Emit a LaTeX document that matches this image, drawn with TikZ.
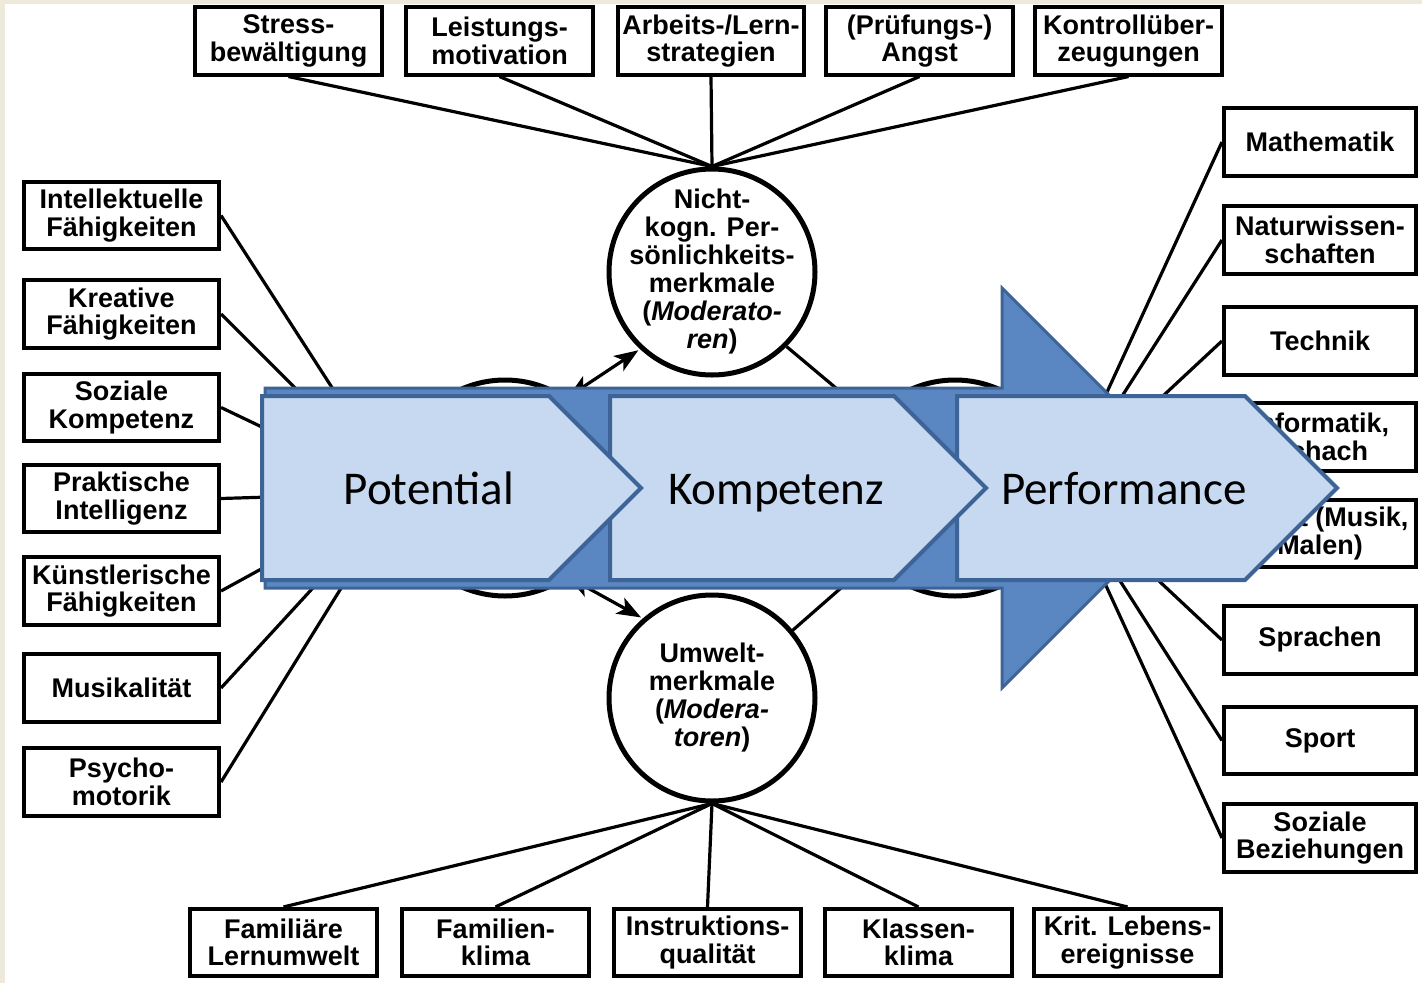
\documentclass[tikz,border=0pt]{standalone}
\usepackage{fontspec}
\setmainfont{Liberation Sans}
\newfontfamily\calfont{Carlito}
\usetikzlibrary{arrows.meta}

\definecolor{chevfill}{HTML}{C6D9F0}
\definecolor{chevline}{HTML}{3E6497}
\definecolor{bandfill}{HTML}{5A87C1}
\definecolor{rimbg}{HTML}{EDEADB}

\tikzset{
  kbox/.style={draw, line width=3.6pt, minimum width=186.5pt, minimum height=67.5pt,
    inner sep=1pt, align=center, font={\fontsize{27}{27.5}\selectfont\bfseries}},
  sidebox/.style={kbox, minimum width=195.5pt},
  rightbox/.style={kbox, minimum width=192.5pt},
  kcirc/.style={draw, circle, line width=5pt, minimum size=206pt, inner sep=-30pt,
    align=center, font={\fontsize{27}{28}\selectfont\bfseries}},
  link/.style={line width=3.2pt},
  chev/.style={fill=chevfill, draw=chevline, line width=4pt, line join=miter},
  chevtext/.style={anchor=base, inner sep=0pt, font={\fontsize{47}{50}\calfont}},
}

\newcommand\kasten[4][kbox]{\node[#1] (#2) at (#3) {#4};}

\begin{document}
\begin{tikzpicture}[x=1pt, y=-1pt]
    % background and rim
    \fill[rimbg] (0,0) rectangle (1422,983);
    \fill[white] (5,4) rectangle (1422,983);
    \useasboundingbox (0,0) rectangle (1422,983);

    % top row
    \kasten{stress}{288.5,41}{Stress-\\bewältigung}
    \kasten{leist}{499.5,41}{Leistungs-\\motivation}
    \kasten{arbeit}{711,41}{Arbeits-/Lern-\\strategien}
    \kasten{angst}{919.5,41}{(Prüfungs-)\\Angst}
    \kasten{kontr}{1128.5,41}{Kontrollüber-\\zeugungen}

    % bottom row
    \kasten{famlern}{283.5,942.5}{Familiäre\\Lernumwelt}
    \kasten{famklima}{495.5,942.5}{Familien-\\klima}
    \kasten{instr}{707.5,942.5}{Instruktions-\\qualität}
    \kasten{klasse}{918.5,942.5}{Klassen-\\klima}
    \kasten{krit}{1127.5,942.5}{Krit. Lebens-\\ereignisse}

    % left column
    \kasten[sidebox]{intell}{121.5,215.5}{Intellektuelle\\Fähigkeiten}
    \kasten[sidebox]{kreat}{121.5,314}{Kreative\\Fähigkeiten}
    \kasten[sidebox]{sozk}{121.5,407.5}{Soziale\\Kompetenz}
    \kasten[sidebox]{prakt}{121.5,498.5}{Praktische\\Intelligenz}
    \kasten[sidebox]{kuenst}{121.5,591}{Künstlerische\\Fähigkeiten}
    \kasten[sidebox]{musik}{121.5,688}{Musikalität}
    \kasten[sidebox]{psycho}{121.5,782}{Psycho-\\motorik}

    % right column
    \kasten[rightbox]{mathe}{1320,142}{Mathematik}
    \kasten[rightbox]{natur}{1320,240}{Naturwissen-\\schaften}
    \kasten[rightbox]{technik}{1320,341}{Technik}
    \kasten[rightbox]{info}{1320,437}{Informatik,\\Schach}
    \kasten[rightbox]{kunst}{1320,533.5}{Kunst (Musik,\\Malen)}
    \kasten[rightbox]{sprache}{1320,640}{Sprachen}
    \kasten[rightbox]{sport}{1320,740.5}{Sport}
    \kasten[rightbox]{sozbez}{1320,838}{Soziale\\Beziehungen}

    % circles
    \node[kcirc] (tc) at (712,272) {Nicht-\\kogn. Per-\\sönlichkeits-\\merkmale\\(\textit{Moderato-}\\\textit{ren})};
    \node[kcirc] (bc) at (712,698) {Umwelt-\\merkmale\\(\textit{Modera-}\\\textit{toren})};
    \node[kcirc, minimum size=216pt] (lc) at (505,488) {};
    \node[kcirc, minimum size=216pt] (rc) at (955,488) {};
    \coordinate (potin) at (400,493);
    \coordinate (perfin) at (1062,490);
    \coordinate (ka) at (568,397);
    \coordinate (kb) at (568,577);

    % top row to tc
    \draw[link] (stress.south) -- (tc.north);
    \draw[link] (leist.south) -- (tc.north);
    \draw[link] (arbeit.south) -- (tc.north);
    \draw[link] (angst.south) -- (tc.north);
    \draw[link] (kontr.south) -- (tc.north);

    % bc to bottom row
    \draw[link] (bc.south) -- (famlern.north);
    \draw[link] (bc.south) -- (famklima.north);
    \draw[link] (bc.south) -- (instr.north);
    \draw[link] (bc.south) -- (klasse.north);
    \draw[link] (bc.south) -- (krit.north);

    % left column to potential
    \draw[link] (intell.east) -- (potin);
    \draw[link] (kreat.east) -- (potin);
    \draw[link] (sozk.east) -- (potin);
    \draw[link] (prakt.east) -- (potin);
    \draw[link] (kuenst.east) -- (potin);
    \draw[link] (musik.east) -- (potin);
    \draw[link] (psycho.east) -- (potin);

    % performance to right column
    \draw[link] (perfin) -- (mathe.west);
    \draw[link] (perfin) -- (natur.west);
    \draw[link] (perfin) -- (technik.west);
    \draw[link] (perfin) -- (info.west);
    \draw[link] (perfin) -- (kunst.west);
    \draw[link] (perfin) -- (sprache.west);
    \draw[link] (perfin) -- (sport.west);
    \draw[link] (perfin) -- (sozbez.west);

    % moderators
    \draw[link] (tc.-45) -- (rc);
    \draw[link] (bc.40) -- (rc);
    \draw[link, <->, >={Stealth[length=24pt, width=18pt, inset=6pt]}, shorten >=2pt] (ka) -- (tc.227);
    \draw[link, <->, >={Stealth[length=24pt, width=18pt, inset=6pt]}, shorten >=2pt] (kb) -- (bc.131);

    % big arrow behind
    \draw[fill=bandfill, draw=chevline, line width=3pt, line join=miter]
      (265,388) -- (1002,388) -- (1002,288) -- (1202,488) -- (1002,688) -- (1002,588) -- (265,588) -- cycle;

    % chevrons
    \draw[chev] (957,396) -- (1245,396) -- (1337,488) -- (1245,580) -- (957,580) -- cycle;
    \draw[chev] (610,396) -- (894,396) -- (986,488) -- (894,580) -- (610,580) -- cycle;
    \draw[chev] (262,396) -- (549,396) -- (641,488) -- (549,580) -- (262,580) -- cycle;
    \node[chevtext] (pottxt) at (429,504) {Potential};
    \node[chevtext] (komptxt) at (776,504) {Kompetenz};
    \node[chevtext] (perftxt) at (1124,504) {Performance};
\end{tikzpicture}
\end{document}
